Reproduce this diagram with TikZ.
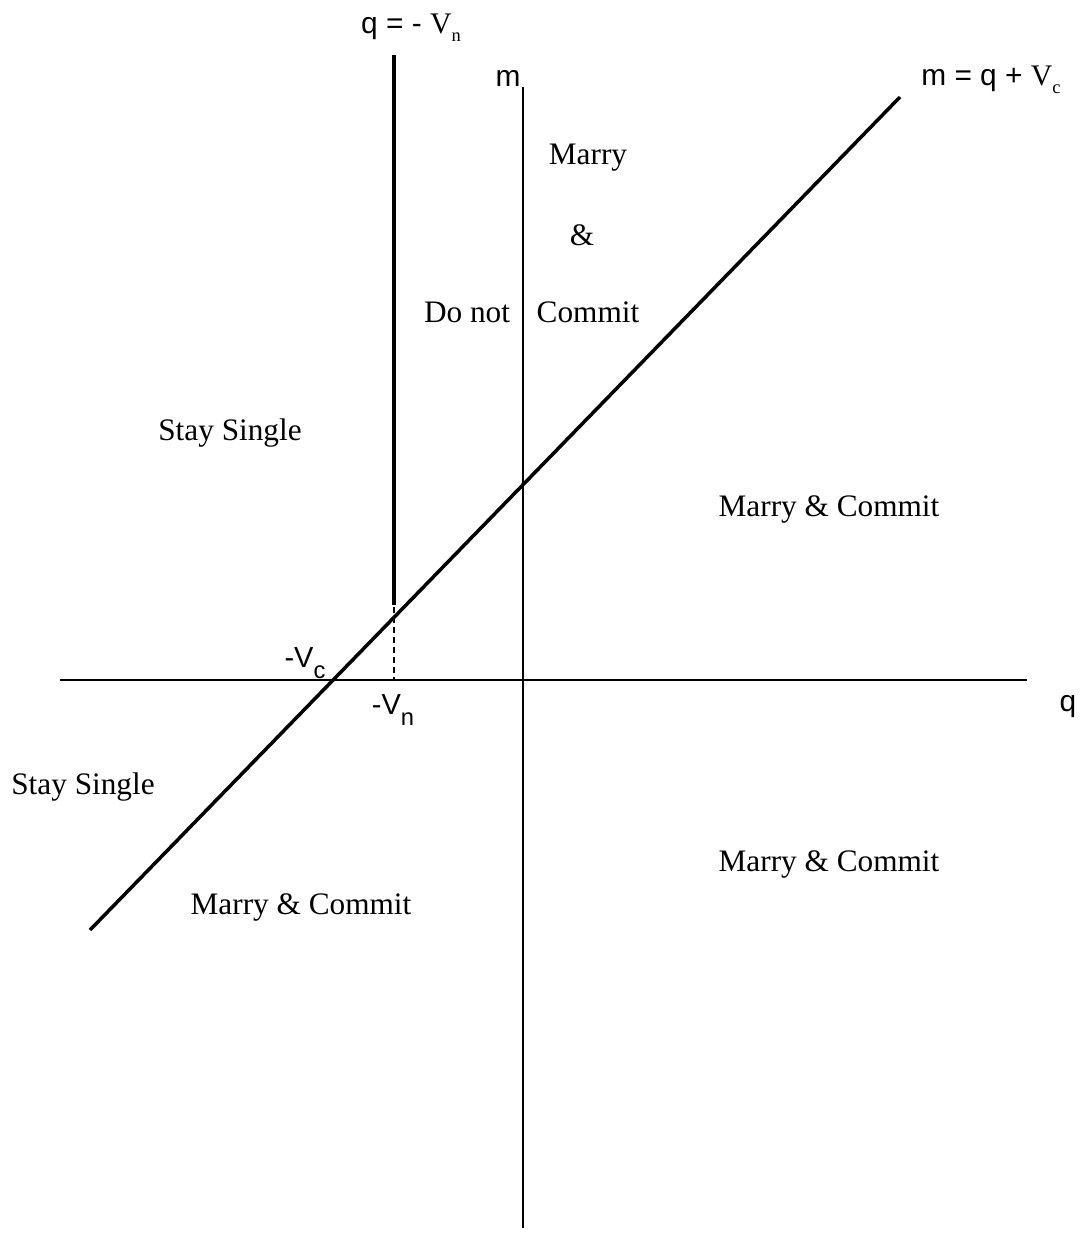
\documentclass[tikz,border=0pt]{standalone}
\usepackage{fontspec}
\setmainfont{Liberation Serif}
\setsansfont{Liberation Sans}
\usetikzlibrary{positioning}
\newcommand{\lowsub}[1]{\raisebox{-4.5pt}{\fontsize{10.5}{10}\selectfont #1}}
\newcommand{\ticksub}[1]{\raisebox{-6pt}{\fontsize{13.5}{13}\selectfont #1}}

\begin{document}
\begin{tikzpicture}[x=0.02cm, y=-0.02cm,
        region/.style={font=\fontsize{17.8}{20}\selectfont, inner sep=0pt},
        axislabel/.style={font=\sffamily\fontsize{17}{19}\selectfont, inner sep=0pt},
        ticklabel/.style={font=\sffamily\fontsize{16.5}{18}\selectfont, inner sep=0pt},
        axis/.style={line width=0.85pt},
        boundary/.style={line width=2pt},
        cutoff/.style={line width=2.8pt},
        guide/.style={line width=0.7pt, dash pattern=on 3.4pt off 2.3pt}
    ]
        \useasboundingbox (0,0) rectangle (1085,1234);

        % axes
        \coordinate (qleft) at (60,680);
        \coordinate (qright) at (1027,680);
        \coordinate (mtop) at (523,87);
        \coordinate (mbottom) at (523,1228);
        \draw [axis] (qleft) -- (qright);
        \draw [axis] (mtop) -- (mbottom);

        % boundaries
        \coordinate (diagstart) at (90,930);
        \coordinate (diagend) at (900,97);
        \coordinate (vntop) at (394,55);
        \coordinate (vnend) at (394,605);
        \coordinate (vndash) at (394,607);
        \coordinate (vnaxis) at (394,680);
        \draw [boundary] (diagstart) -- (diagend);
        \draw [cutoff] (vntop) -- (vnend);
        \draw [guide] (vndash) -- (vnaxis);

        % labels
        \node (qvn) [axislabel] at (411,28) {q = - {\rmfamily V\lowsub{n}}};
        \node (mlabel) [axislabel] at (508,78) {m};
        \node (diaglabel) [axislabel] at (991,80) {m = q + {\rmfamily V\lowsub{c}}};
        \node (qlabel) [axislabel] at (1068,707) {q};
        \node (vclabel) [ticklabel] at (305,663) {-V\ticksub{c}};
        \node (vnlabel) [ticklabel] at (393,710) {-V\ticksub{n}};

        % regions
        \node (marry) [region] at (588,158) {Marry};
        \node (amp) [region] at (582,235) {\&};
        \node (donot) [region] at (467,312) {Do not};
        \node (commit) [region] at (588,312) {Commit};
        \node (singleup) [region] at (230,433) {Stay Single};
        \node (mcright) [region] at (829,509) {Marry \& Commit};
        \node (singlelow) [region] at (83,787) {Stay Single};
        \node (mclow) [region] at (829,864) {Marry \& Commit};
        \node (mcleft) [region] at (301,907) {Marry \& Commit};
    \end{tikzpicture}
\end{document}
